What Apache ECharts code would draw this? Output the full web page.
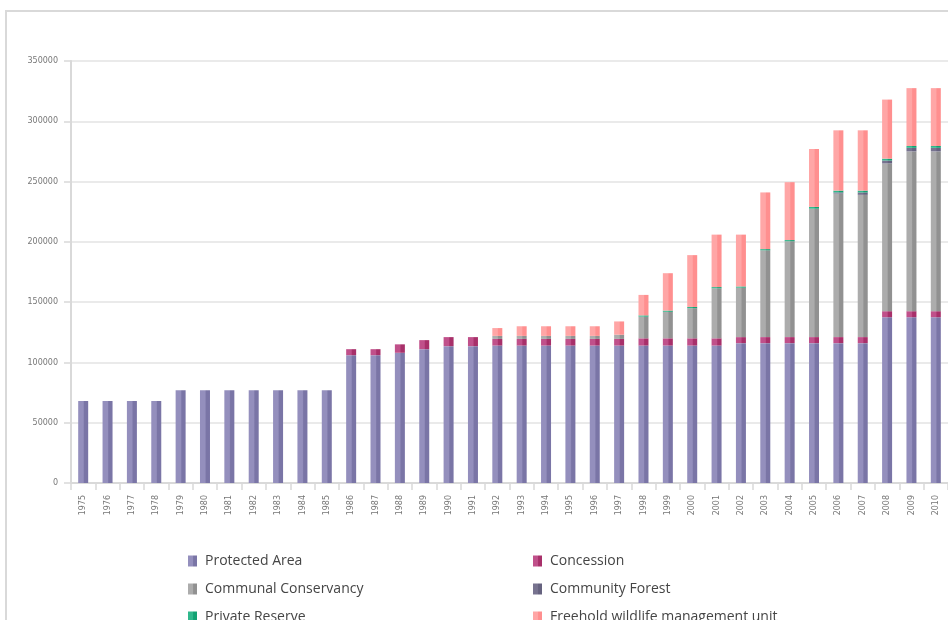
<!DOCTYPE html>
<html>
<head>
<meta charset="utf-8">
<script src="https://cdn.jsdelivr.net/npm/echarts@6/dist/echarts.min.js"></script>
<style>
  html, body { margin: 0; padding: 0; background: #fff; }
  #chart { width: 948px; height: 620px; }
</style>
</head>
<body>
<div id="chart"></div>
<script>
var years = [];
for (var y = 1975; y <= 2010; y++) years.push(String(y));

// values (ha)
var protectedArea = [
  68000, 68000, 68000, 68000,
  77000, 77000, 77000, 77000, 77000, 77000, 77000,
  106000, 106000, 108000, 111000, 113500, 113500,
  114000, 114000, 114000, 114000, 114000, 114000, 114000, 114000, 114000, 114000,
  116000, 116000, 116000, 116000, 116000, 116000,
  137500, 137500, 137500
];
var concession = [
  0, 0, 0, 0, 0, 0, 0, 0, 0, 0, 0,
  5000, 5000, 7000, 7500, 7500, 7500,
  5500, 5500, 5500, 5500, 5500, 5500, 6000, 6000, 6000, 6000,
  5000, 5000, 5000, 5000, 5000, 5000,
  5000, 5000, 5000
];
var communalConservancy = [
  0, 0, 0, 0, 0, 0, 0, 0, 0, 0, 0,
  0, 0, 0, 0, 0, 0,
  2500, 2500, 2500, 2500, 2500, 3500, 18000, 22000, 25000, 41500,
  41000, 72000, 79500, 106500, 119000, 118000,
  122500, 132500, 132500
];
var communityForest = [
  0, 0, 0, 0, 0, 0, 0, 0, 0, 0, 0,
  0, 0, 0, 0, 0, 0,
  0, 0, 0, 0, 0, 0, 0, 0, 0, 0,
  0, 0, 0, 0, 1000, 2000,
  2500, 3000, 3000
];
var privateReserve = [
  0, 0, 0, 0, 0, 0, 0, 0, 0, 0, 0,
  0, 0, 0, 0, 0, 0,
  0, 0, 0, 0, 0, 0, 1000, 1000, 1000, 1000,
  1000, 1000, 1000, 1500, 1500, 1500,
  1500, 1500, 1500
];
var freehold = [
  0, 0, 0, 0, 0, 0, 0, 0, 0, 0, 0,
  0, 0, 0, 0, 0, 0,
  6500, 8000, 8000, 8000, 8000, 11000, 17000, 31000, 43000, 43500,
  43000, 47000, 48000, 48000, 50000, 50000,
  49000, 48000, 48000
];
var yTicks = [0, 50000, 100000, 150000, 200000, 250000, 300000, 350000];

// legend layout: name, left, top
var legendSlots = [
  ['Protected Area', 183, 549],
  ['Concession', 528, 549],
  ['Communal Conservancy', 183, 577],
  ['Community Forest', 528, 577],
  ['Private Reserve', 183, 605],
  ['Freehold wildlife management unit', 528, 605]
];

function shade(light, dark) {
  return new echarts.graphic.LinearGradient(0, 0, 1, 0, [
    { offset: 0, color: light },
    { offset: 0.5, color: light },
    { offset: 0.62, color: dark },
    { offset: 1, color: dark }
  ]);
}

function barSeries(name, data, light, dark) {
  return {
    name: name,
    type: 'bar',
    stack: 'total',
    barWidth: 10,
    data: data,
    itemStyle: { color: shade(light, dark) }
  };
}

var legends = legendSlots.map(function (s) {
  return {
    left: s[1], top: s[2],
    icon: 'rect',
    itemWidth: 9, itemHeight: 11,
    textStyle: { fontSize: 14, color: '#454545', fontFamily: 'Open Sans', padding: [0, 0, 0, 3] },
    data: [s[0]]
  };
});

var myChart = echarts.init(document.getElementById('chart'));
var option = {
  animation: false,
  graphic: [
    { type: 'line', shape: { x1: 5, y1: 11, x2: 948, y2: 11 }, style: { stroke: '#d9d9d9', lineWidth: 2 } },
    { type: 'line', shape: { x1: 6, y1: 11, x2: 6, y2: 620 }, style: { stroke: '#d9d9d9', lineWidth: 2 } }
  ],
  grid: { left: 71, right: 0, top: 61, bottom: 137 },
  legend: legends,
  xAxis: {
    type: 'category',
    data: years,
    axisLine: { lineStyle: { color: '#d9d9d9', width: 2 } },
    axisTick: { show: true, length: 7, lineStyle: { color: '#d9d9d9', width: 1.5 } },
    axisLabel: { rotate: 90, fontSize: 8, color: '#777', margin: 12, fontFamily: 'DejaVu Sans' }
  },
  yAxis: {
    type: 'value',
    min: yTicks[0],
    max: yTicks[yTicks.length - 1],
    interval: yTicks[1] - yTicks[0],
    axisLine: { show: true, lineStyle: { color: '#d9d9d9', width: 2 } },
    axisTick: { show: true, length: 7, lineStyle: { color: '#d9d9d9', width: 1.5 } },
    axisLabel: {
      fontSize: 8, color: '#777', margin: 13, fontFamily: 'DejaVu Sans',
      formatter: function (v) { return String(v); }
    },
    splitLine: { lineStyle: { color: '#e3e3e3', width: 1.5 } }
  },
  series: [
    barSeries('Protected Area', protectedArea, '#948fbd', '#7a75a6'),
    barSeries('Concession', concession, '#c0508a', '#a8306a'),
    barSeries('Communal Conservancy', communalConservancy, '#acacac', '#919191'),
    barSeries('Community Forest', communityForest, '#77738f', '#66627f'),
    barSeries('Private Reserve', privateReserve, '#30b88c', '#12a273'),
    barSeries('Freehold wildlife management unit', freehold, '#ffa6a6', '#ff8f8f')
  ]
};

myChart.setOption(option);
</script>
</body>
</html>
